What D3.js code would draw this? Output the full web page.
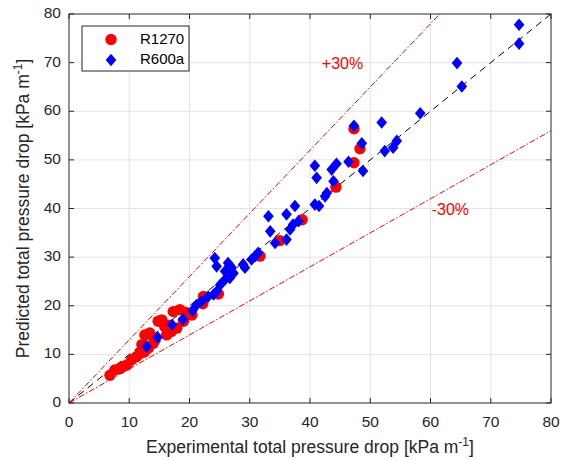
<!DOCTYPE html>
<html>
<head>
<meta charset="utf-8">
<script src="https://cdn.jsdelivr.net/npm/d3@7"></script>
<style>
html,body{margin:0;padding:0;background:#fff;}
svg{display:block;font-family:"Liberation Sans",Arial,Helvetica,sans-serif;}
</style>
</head>
<body>
<svg id="chart" width="568" height="460"></svg>
<script>
// ---- data ----
const xTicks = [0,10,20,30,40,50,60,70,80];
const yTicks = [0,10,20,30,40,50,60,70,80];
const seriesNames = ["R1270","R600a"];
const r1270X = [6.8,7.6,8.5,9.0,9.6,10.4,11.2,11.8,12.1,12.5,12.6,13.4,13.2,14.0,14.3,14.8,15.4,15.9,16.2,16.5,17.0,17.3,18.4,17.9,19.0,19.4,20.4,22.2,22.3,24.8,26.7,31.7,35.0,38.7,44.3,47.3,48.3,47.3];
const r1270Y = [5.7,6.8,7.1,7.5,7.8,8.9,9.5,10.2,12.0,10.5,14.0,14.4,11.3,12.3,13.0,16.8,17.1,15.7,14.0,16.0,14.7,18.8,19.2,15.4,16.8,18.6,18.1,20.4,21.9,22.4,27.8,30.2,33.4,37.7,44.4,49.4,52.3,56.4];
const r600aX = [12.9,14.7,17.1,18.9,20.5,21.2,22.0,23.1,24.0,24.5,25.1,25.9,26.7,27.3,24.2,24.5,26.4,25.9,27.0,28.9,29.2,30.3,30.9,31.4,33.1,33.4,34.2,36.1,36.1,37.5,36.7,37.2,38.1,40.8,41.1,40.8,41.5,42.5,42.8,43.9,43.6,44.4,46.4,47.3,48.6,48.8,51.9,52.4,53.8,54.4,58.3,64.4,65.2,74.7,74.7];
const r600aY = [11.6,13.5,16.1,17.2,19.0,20.2,20.9,21.9,22.3,22.9,24.3,25.4,25.7,26.7,29.8,28.1,28.8,27.1,27.8,28.5,27.8,29.5,30.2,30.9,38.4,35.3,32.9,33.6,38.8,40.5,35.7,36.7,37.4,48.8,46.3,40.8,40.5,42.5,43.2,45.6,48.0,49.2,49.6,57.0,53.4,47.7,57.7,51.8,52.5,53.9,59.6,69.9,65.1,77.8,73.9];
const bandFactors = [1.3, 0.7];
const bandLabels = ["+30%","-30%"];

// ---- layout ----
const svg = d3.select("#chart");
const W = 568, H = 460;
const m = {left:69, right:551, top:14, bottom:403};
const x = d3.scaleLinear().domain([0,80]).range([m.left, m.right]);
const y = d3.scaleLinear().domain([0,80]).range([m.bottom, m.top]);
const axisColor = "#262626";

svg.append("rect").attr("width",W).attr("height",H).attr("fill","#fff");

// grid
const grid = svg.append("g");
grid.selectAll("line.vx").data(xTicks.slice(1,-1)).join("line")
  .attr("x1",d=>x(d)).attr("x2",d=>x(d)).attr("y1",m.top).attr("y2",m.bottom)
  .attr("stroke","#e3e3e3").attr("stroke-width",1);
grid.selectAll("line.hy").data(yTicks.slice(1,-1)).join("line")
  .attr("y1",d=>y(d)).attr("y2",d=>y(d)).attr("x1",m.left).attr("x2",m.right)
  .attr("stroke","#e3e3e3").attr("stroke-width",1);

// reference lines
const clip = svg.append("clipPath").attr("id","clip").append("rect")
  .attr("x",m.left).attr("y",m.top).attr("width",m.right-m.left).attr("height",m.bottom-m.top);
const lines = svg.append("g").attr("clip-path","url(#clip)");
lines.append("line").attr("x1",x(0)).attr("y1",y(0)).attr("x2",x(80)).attr("y2",y(80))
  .attr("stroke","#000").attr("stroke-width",1).attr("stroke-dasharray","7,5");
bandFactors.forEach(f=>{
  const xe = Math.min(80, 80/f);
  lines.append("line").attr("x1",x(0)).attr("y1",y(0)).attr("x2",x(xe)).attr("y2",y(xe*f))
    .attr("stroke","#ff0000").attr("stroke-width",1).attr("stroke-dasharray","6,2,1.5,2");
});

// band labels
svg.append("text").attr("x",x(45.4)).attr("y",y(69.6)).attr("fill","#ff0000")
  .attr("font-size",16).attr("text-anchor","middle").attr("dominant-baseline","middle").text(bandLabels[0]);
svg.append("text").attr("x",x(63.3)).attr("y",y(39.6)).attr("fill","#ff0000")
  .attr("font-size",16).attr("text-anchor","middle").attr("dominant-baseline","middle").text(bandLabels[1]);

// markers
const diamond = (cx,cy,hw,hh)=>`M${cx},${cy-hh}L${cx+hw},${cy}L${cx},${cy+hh}L${cx-hw},${cy}Z`;
const redData = r1270X.map((v,i)=>({x:v,y:r1270Y[i]}));
const blueData = r600aX.map((v,i)=>({x:v,y:r600aY[i]}));
svg.append("g").selectAll("circle").data(redData).join("circle")
  .attr("cx",d=>x(d.x)).attr("cy",d=>y(d.y)).attr("r",5.7).attr("fill","#ff0000");
svg.append("g").selectAll("path").data(blueData).join("path")
  .attr("d",d=>diamond(x(d.x),y(d.y),5.3,6.3)).attr("fill","#0000ff");

// axes box and ticks
const ax = svg.append("g");
ax.append("rect").attr("x",m.left).attr("y",m.top).attr("width",m.right-m.left).attr("height",m.bottom-m.top)
  .attr("fill","none").attr("stroke",axisColor).attr("stroke-width",1);
const tl = 5;
xTicks.forEach(t=>{
  ax.append("line").attr("x1",x(t)).attr("x2",x(t)).attr("y1",m.bottom).attr("y2",m.bottom-tl).attr("stroke",axisColor);
  ax.append("line").attr("x1",x(t)).attr("x2",x(t)).attr("y1",m.top).attr("y2",m.top+tl).attr("stroke",axisColor);
  ax.append("text").attr("x",x(t)).attr("y",m.bottom+20).attr("text-anchor","middle")
    .attr("dominant-baseline","middle").attr("font-size",15.5).attr("fill",axisColor).text(t);
});
yTicks.forEach(t=>{
  ax.append("line").attr("y1",y(t)).attr("y2",y(t)).attr("x1",m.left).attr("x2",m.left+tl).attr("stroke",axisColor);
  ax.append("line").attr("y1",y(t)).attr("y2",y(t)).attr("x1",m.right).attr("x2",m.right-tl).attr("stroke",axisColor);
  ax.append("text").attr("x",m.left-8).attr("y",y(t)).attr("text-anchor","end")
    .attr("dominant-baseline","middle").attr("font-size",15.5).attr("fill",axisColor).text(t);
});

// axis labels
const xl = svg.append("text").attr("x",(m.left+m.right)/2).attr("y",453).attr("text-anchor","middle")
  .attr("font-size",17.5).attr("fill",axisColor);
xl.append("tspan").text("Experimental total pressure drop [kPa m");
xl.append("tspan").attr("dy",-7).attr("font-size",12).text("-1");
xl.append("tspan").attr("dy",7).text("]");

const yl = svg.append("text").attr("transform",`translate(29,${(m.top+m.bottom)/2}) rotate(-90)`)
  .attr("text-anchor","middle").attr("font-size",17.5).attr("fill",axisColor);
yl.append("tspan").text("Predicted total pressure drop [kPa m");
yl.append("tspan").attr("dy",-7).attr("font-size",12).text("-1");
yl.append("tspan").attr("dy",7).text("]");

// legend
const lg = svg.append("g");
lg.append("rect").attr("x",82).attr("y",26).attr("width",107).attr("height",45)
  .attr("fill","#fff").attr("stroke",axisColor).attr("stroke-width",1);
lg.append("circle").attr("cx",111).attr("cy",39.5).attr("r",5.7).attr("fill","#ff0000");
lg.append("path").attr("d",diamond(111,60,5.3,6.3)).attr("fill","#0000ff");
lg.append("text").attr("x",140).attr("y",40).attr("dominant-baseline","middle").attr("font-size",15).attr("fill","#000").text(seriesNames[0]);
lg.append("text").attr("x",140).attr("y",60.5).attr("dominant-baseline","middle").attr("font-size",15).attr("fill","#000").text(seriesNames[1]);
</script>
</body>
</html>
